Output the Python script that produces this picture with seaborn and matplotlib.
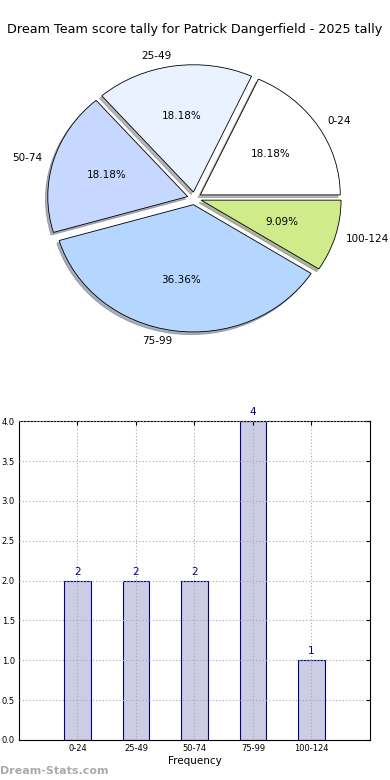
import matplotlib
matplotlib.use("Agg")
import matplotlib.pyplot as plt
import seaborn as sns

# dados do gráfico
faixas = ["0-24", "25-49", "50-74", "75-99", "100-124"]
contagens = [2, 2, 2, 4, 1]
cores_pie = ["#ffffff", "#eaf1ff", "#c6d8ff", "#b5d6ff", "#cfeb8a"]
explode = [0.05, 0.05, 0.05, 0.05, 0.05]
titulo = "Dream Team score tally for Patrick Dangerfield - 2025 tally"

sns.set_style("white")
plt.rcParams["font.family"] = ["DejaVu Sans"]
plt.rcParams["text.color"] = "black"
plt.rcParams["xtick.color"] = "black"
plt.rcParams["ytick.color"] = "black"
plt.rcParams["axes.labelcolor"] = "black"

fig = plt.figure(figsize=(3.9, 7.8), dpi=100)

# Pizza
ax1 = fig.add_axes([0.05, 0.5417, 0.897, 0.408])
ax1.pie(contagens, labels=faixas, colors=cores_pie, explode=explode,
        autopct="%.2f%%", shadow={"ox": -0.012, "oy": -0.015, "shade": 0.55},
        startangle=0, labeldistance=1.08,
        wedgeprops={"edgecolor": "black", "linewidth": 0.6},
        textprops={"fontsize": 7.5})
ax1.set_aspect("auto")
ax1.set_xlim(-1.25, 1.25)
ax1.set_ylim(-1.25, 1.25)
fig.text(0.5, 0.962, titulo, ha="center", va="center", fontsize=9.2)

# Barras
ax2 = fig.add_axes([0.0487, 0.0513, 0.9, 0.4087])
sns.barplot(x=faixas, y=contagens, ax=ax2, width=0.45, color="#ccccE4",
            edgecolor="navy", linewidth=0.8, saturation=1)
for i, v in enumerate(contagens):
    ax2.text(i, v + 0.05, str(v), ha="center", va="bottom", color="navy", fontsize=7.5)
ax2.set_xlim(-1, 5)
ax2.set_ylim(0, 4)
ax2.set_yticks([0, 0.5, 1, 1.5, 2, 2.5, 3, 3.5, 4])
ax2.set_yticklabels([f"{t:.1f}" for t in ax2.get_yticks()])
ax2.grid(True, linestyle=(0, (1, 2)), color="#aaaaaa", linewidth=0.8)
ax2.set_axisbelow(False)
for s in ax2.spines.values():
    s.set_edgecolor("black")
    s.set_linewidth(0.8)
ax2.tick_params(labelsize=6, direction="in", top=True, right=True, length=3, pad=3)
ax2.set_xlabel("Frequency", fontsize=7.5, labelpad=2)
ax2.set_ylabel("")

fig.text(0.0, 0.012, "Dream-Stats.com", color="#aaaaaa", fontsize=8, fontweight="bold", ha="left", va="center")

fig.savefig("out.png", dpi=100)
